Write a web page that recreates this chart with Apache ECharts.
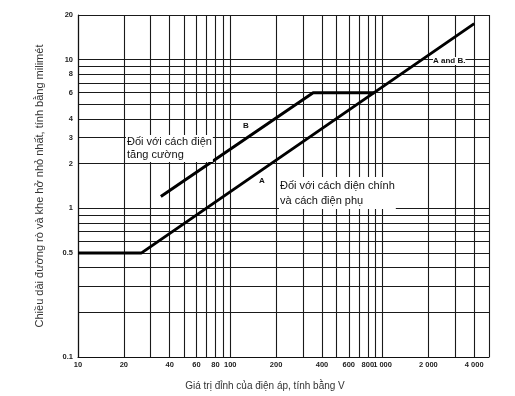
<!DOCTYPE html>
<html><head><meta charset="utf-8">
<script src="https://cdn.jsdelivr.net/npm/echarts@6/dist/echarts.min.js"></script>
<style>html,body{margin:0;padding:0;background:#fff}#c{width:515px;height:396px}</style>
</head><body><div id="c"></div>
<script>
// grid/tick values
const xGridValues = [10,20,30,40,50,60,70,80,90,100,200,300,400,500,600,700,800,900,1000,2000,3000,4000,5000];
const xLabelValues = [10,20,40,60,80,100,200,400,600,800,1000,2000,4000];
const yGridValues = [0.1,0.2,0.3,0.4,0.5,0.6,0.7,0.8,0.9,1,2,3,4,5,6,7,8,9,10,20];
const yLabelValues = [0.1,0.5,1,2,3,4,6,8,10,20];
// curves [voltage V, distance mm]
const curveA = [[10,0.5],[26,0.5],[4000,17.5]];
const curveB = [[35,1.2],[350,6],[885,6]];

const chart = echarts.init(document.getElementById('c'), null, {renderer:'canvas'});
const lblFont = {fontFamily:'Liberation Sans', fontWeight:'bold', fontSize:7.5, color:'#222'};
const txtFont = 'Liberation Sans';
function fmtX(v){ return v >= 1000 ? String(v).replace(/(\d)(\d{3})$/, '$1 $2') : String(v); }

chart.setOption({
  animation:false,
  backgroundColor:'#fff',
  grid:{left:78,right:26,top:15,bottom:39,containLabel:false},
  xAxis:{
    type:'log', logBase:10, min:10, max:5000,
    axisLine:{show:true,lineStyle:{color:'#111',width:1.2}},
    axisTick:{show:false, customValues:xGridValues},
    axisLabel:Object.assign({customValues:xLabelValues, margin:4, formatter:fmtX, showMinLabel:true, showMaxLabel:true}, lblFont),
    splitLine:{show:true,lineStyle:{color:'#1a1a1a',width:1.1}},
    minorSplitLine:{show:false}
  },
  yAxis:{
    type:'log', logBase:10, min:0.1, max:20,
    name:'Chiều dài đường rò và khe hở nhỏ nhất, tính bằng milimét',
    nameLocation:'middle', nameGap:33,
    nameTextStyle:{fontFamily:txtFont,fontSize:11,color:'#333'},
    axisLine:{show:true,lineStyle:{color:'#111',width:1.2}},
    axisTick:{show:false, customValues:yGridValues},
    axisLabel:Object.assign({customValues:yLabelValues, margin:5, formatter:v=>String(v), showMinLabel:true, showMaxLabel:true}, lblFont),
    splitLine:{show:true,lineStyle:{color:'#1a1a1a',width:1.1}}
  },
  series:[
    {type:'line', data:curveA, symbol:'none', lineStyle:{color:'#000',width:3}, z:5},
    {type:'line', data:curveB, symbol:'none', lineStyle:{color:'#000',width:3}, z:5}
  ],
  graphic:[
    {type:'text', left:126, top:135, z:10, style:{text:'Đối với cách điện\ntăng cường', fontFamily:txtFont, fontSize:11, lineHeight:12.5, fill:'#111', backgroundColor:'#fff', padding:[1,1,1,1]}},
    {type:'text', left:279, top:177, z:10, style:{text:'Đối với cách điện chính\nvà cách điện phụ', fontFamily:txtFont, fontSize:11, lineHeight:15, fill:'#111', backgroundColor:'#fff', padding:[1,1,1,1]}},
    {type:'text', left:243, top:122, z:10, style:{text:'B', fontFamily:txtFont, fontWeight:'bold', fontSize:8, fill:'#111'}},
    {type:'text', left:259, top:177, z:10, style:{text:'A', fontFamily:txtFont, fontWeight:'bold', fontSize:8, fill:'#111'}},
    {type:'text', left:433, top:57, z:10, style:{text:'A and B.', fontFamily:txtFont, fontWeight:'bold', fontSize:8, fill:'#111', backgroundColor:'#fff'}},
    {type:'text', x:265, y:386, z:10, style:{text:'Giá trị đỉnh của điện áp, tính bằng V', fontFamily:txtFont, fontSize:10, fill:'#333', align:'center', verticalAlign:'middle'}}
  ]
});
</script></body></html>
